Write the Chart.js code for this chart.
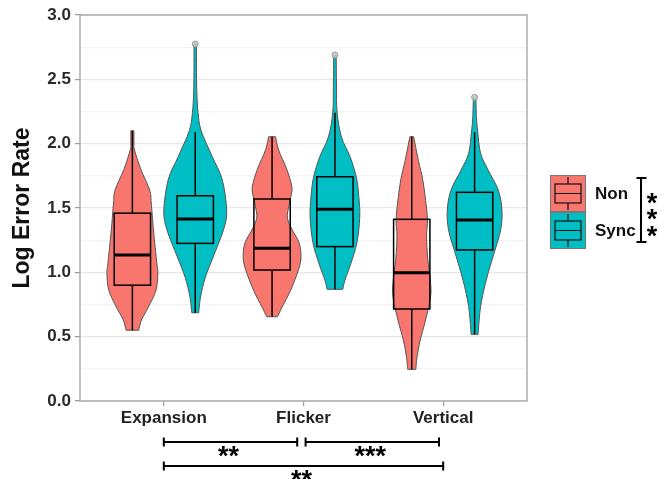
<!DOCTYPE html>
<html lang="en">
<head>
    <meta charset="UTF-8">
    <title>Log Error Rate violins</title>
    <script src="https://cdn.jsdelivr.net/npm/chart.js"></script>
    <style>
        body { margin: 0; background: #fff; }
        #wrap { width: 661px; height: 479px; }
    </style>
</head>
<body>
    <div id="wrap"><canvas id="chart"></canvas></div>

    <script>
        const categories = ['Expansion', 'Flicker', 'Vertical'];
        const groups = ['Non', 'Sync'];
        const groupColors = ['#F8766D', '#00BFC4'];

        // violin outlines: [log error rate, relative density]
        const expansionNon = [[2.10, 0.05], [2.00, 0.05], [1.95, 0.07], [1.80, 0.27], [1.64, 0.55], [1.54, 0.60], [1.33, 0.67], [1.07, 0.78], [0.99, 0.81], [0.86, 0.75], [0.73, 0.51], [0.63, 0.29], [0.55, 0.20]];
        const expansionSync = [[2.775, 0.04], [2.60, 0.04], [2.40, 0.05], [2.24, 0.09], [2.10, 0.19], [1.90, 0.54], [1.72, 0.86], [1.48, 1.00], [1.33, 0.90], [1.12, 0.57], [0.96, 0.32], [0.81, 0.17], [0.686, 0.11]];
        const flickerNon = [[2.054, 0.11], [1.95, 0.21], [1.80, 0.47], [1.665, 0.63], [1.59, 0.60], [1.50, 0.52], [1.42, 0.49], [1.33, 0.64], [1.23, 0.86], [1.12, 0.92], [1.02, 0.84], [0.86, 0.59], [0.73, 0.32], [0.655, 0.17]];
        const flickerSync = [[2.69, 0.04], [2.45, 0.05], [2.24, 0.07], [2.05, 0.21], [1.90, 0.48], [1.74, 0.68], [1.59, 0.76], [1.43, 0.79], [1.23, 0.70], [1.07, 0.51], [0.94, 0.32], [0.868, 0.25]];
        const verticalNon = [[2.054, 0.06], [1.87, 0.21], [1.72, 0.35], [1.56, 0.44], [1.41, 0.50], [1.28, 0.47], [1.10, 0.51], [0.94, 0.59], [0.81, 0.60], [0.63, 0.44], [0.474, 0.27], [0.344, 0.17], [0.246, 0.13]];
        const verticalSync = [[2.36, 0.04], [2.20, 0.06], [2.09, 0.10], [1.925, 0.19], [1.795, 0.43], [1.64, 0.75], [1.484, 0.87], [1.33, 0.83], [1.15, 0.62], [0.94, 0.37], [0.733, 0.19], [0.518, 0.11]];

        // box stats per category: [min, q1, median, q3, max]
        const nonBoxes = [[0.55, 0.90, 1.135, 1.46, 2.10], [0.655, 1.018, 1.187, 1.57, 2.054], [0.246, 0.715, 0.997, 1.412, 2.054]];
        const syncBoxes = [[0.686, 1.225, 1.415, 1.595, 2.09], [0.868, 1.20, 1.49, 1.743, 2.24], [0.518, 1.174, 1.407, 1.622, 2.09]];
        const syncOutliers = [2.775, 2.69, 2.36];

        // significance brackets between categories (x positions in category units)
        const pairSpans = [[1, 1.955], [2.015, 2.97], [1, 3]];
        const pairStars = ['**', '***', '**'];
        const groupStars = '***';

        const nonViolins = [expansionNon, flickerNon, verticalNon];
        const syncViolins = [expansionSync, flickerSync, verticalSync];

        const dodge = 0.225;      // half of the 0.9 dodge width
        const halfViolin = 0.225; // widest violin spans 0.45
        const halfBox = 0.13;
        const FONT = 'Liberation Sans, Arial, sans-serif';

        function isMajor(v) {
            return Math.abs(v * 2 - Math.round(v * 2)) < 1e-6;
        }

        // catmull-rom through pixel points
        function spline(ctx, pts) {
            for (let i = 0; i < pts.length - 1; i++) {
                const p0 = pts[i - 1] || pts[i];
                const p1 = pts[i];
                const p2 = pts[i + 1];
                const p3 = pts[i + 2] || p2;
                ctx.bezierCurveTo(
                    p1[0] + (p2[0] - p0[0]) / 6, p1[1] + (p2[1] - p0[1]) / 6,
                    p2[0] - (p3[0] - p1[0]) / 6, p2[1] - (p3[1] - p1[1]) / 6,
                    p2[0], p2[1]
                );
            }
        }

        function drawViolin(ctx, x, y, pts, center, color) {
            const right = pts.map(([v, d]) => [x.getPixelForValue(center + d * halfViolin), y.getPixelForValue(v)]);
            const left = pts.map(([v, d]) => [x.getPixelForValue(center - d * halfViolin), y.getPixelForValue(v)]).reverse();
            ctx.beginPath();
            ctx.moveTo(right[0][0], right[0][1]);
            spline(ctx, right);
            ctx.lineTo(left[0][0], left[0][1]);
            spline(ctx, left);
            ctx.closePath();
            ctx.fillStyle = color;
            ctx.fill();
            ctx.strokeStyle = '#555';
            ctx.lineWidth = 1;
            ctx.stroke();
        }

        function drawBox(ctx, x, y, stats, center) {
            const [mn, q1, med, q3, mx] = stats;
            const cx = x.getPixelForValue(center);
            const l = x.getPixelForValue(center - halfBox);
            const r = x.getPixelForValue(center + halfBox);
            ctx.strokeStyle = '#000';
            ctx.lineWidth = 1.5;
            ctx.beginPath();
            ctx.moveTo(cx, y.getPixelForValue(mx));
            ctx.lineTo(cx, y.getPixelForValue(q3));
            ctx.moveTo(cx, y.getPixelForValue(q1));
            ctx.lineTo(cx, y.getPixelForValue(mn));
            ctx.stroke();
            ctx.strokeRect(l, y.getPixelForValue(q3), r - l, y.getPixelForValue(q1) - y.getPixelForValue(q3));
            ctx.lineWidth = 3;
            ctx.beginPath();
            ctx.moveTo(l, y.getPixelForValue(med));
            ctx.lineTo(r, y.getPixelForValue(med));
            ctx.stroke();
        }

        function drawStars(ctx, text, cx, cy) {
            ctx.font = `bold 27px ${FONT}`;
            ctx.textAlign = 'center';
            ctx.textBaseline = 'alphabetic';
            const m = ctx.measureText(text);
            const base = cy + (m.actualBoundingBoxAscent - m.actualBoundingBoxDescent) / 2;
            ctx.fillStyle = '#000';
            ctx.fillText(text, cx, base);
        }

        function bracketH(ctx, x0, x1, yy) {
            ctx.beginPath();
            ctx.moveTo(x0, yy); ctx.lineTo(x1, yy);
            ctx.moveTo(x0, yy - 4.5); ctx.lineTo(x0, yy + 4.5);
            ctx.moveTo(x1, yy - 4.5); ctx.lineTo(x1, yy + 4.5);
            ctx.stroke();
        }

        const violinPlugin = {
            id: 'violins',
            beforeDatasetsDraw(chart) {
                const { ctx, chartArea, scales: { x, y } } = chart;
                ctx.save();
                ctx.beginPath();
                ctx.rect(chartArea.left, chartArea.top, chartArea.width, chartArea.height);
                ctx.clip();
                categories.forEach((c, i) => {
                    drawViolin(ctx, x, y, nonViolins[i], i + 1 - dodge, groupColors[0]);
                    drawViolin(ctx, x, y, syncViolins[i], i + 1 + dodge, groupColors[1]);
                    drawBox(ctx, x, y, nonBoxes[i], i + 1 - dodge);
                    drawBox(ctx, x, y, syncBoxes[i], i + 1 + dodge);
                });
                ctx.restore();
            },
            afterDraw(chart) {
                const { ctx, chartArea, scales: { x } } = chart;
                ctx.save();
                // panel border
                ctx.strokeStyle = '#a8a8a8';
                ctx.lineWidth = 1.4;
                ctx.strokeRect(chartArea.left, chartArea.top, chartArea.width, chartArea.height);

                // legend
                const kx = 550, ky = 175, kw = 36, kh = 37;
                groups.forEach((g, i) => {
                    const top = ky + i * kh;
                    ctx.fillStyle = groupColors[i];
                    ctx.fillRect(kx, top, kw, kh);
                    ctx.strokeStyle = '#777';
                    ctx.lineWidth = 1;
                    ctx.strokeRect(kx + 0.5, top + 0.5, kw - 1, kh - 1);
                    ctx.strokeStyle = '#111';
                    ctx.lineWidth = 1.2;
                    const cx = kx + kw / 2;
                    ctx.beginPath();
                    ctx.moveTo(cx, top + 2); ctx.lineTo(cx, top + 9);
                    ctx.moveTo(cx, top + 28); ctx.lineTo(cx, top + 35);
                    ctx.moveTo(kx + 5, top + 18.5); ctx.lineTo(kx + kw - 5, top + 18.5);
                    ctx.stroke();
                    ctx.strokeRect(kx + 5, top + 9, kw - 10, 19);
                    ctx.fillStyle = '#111';
                    ctx.font = `bold 17px ${FONT}`;
                    ctx.textAlign = 'left';
                    ctx.textBaseline = 'middle';
                    ctx.fillText(g, 595, top + 19);
                });

                // bracket between groups
                ctx.strokeStyle = '#000';
                ctx.lineWidth = 2;
                ctx.beginPath();
                ctx.moveTo(641, 178); ctx.lineTo(641, 242);
                ctx.moveTo(636.5, 178); ctx.lineTo(646.5, 178);
                ctx.moveTo(636.5, 242); ctx.lineTo(646.5, 242);
                ctx.stroke();
                groupStars.split('').forEach((s, i) => drawStars(ctx, s, 652, 198 + i * 16.5));

                // brackets between categories
                const rows = [442, 442, 466];
                pairSpans.forEach(([a, b], i) => {
                    const x0 = x.getPixelForValue(a), x1 = x.getPixelForValue(b);
                    ctx.strokeStyle = '#000';
                    ctx.lineWidth = 2;
                    bracketH(ctx, x0, x1, rows[i]);
                    drawStars(ctx, pairStars[i], (x0 + x1) / 2 - 2, rows[i] + 9.5);
                });
                ctx.restore();
            }
        };

        new Chart(document.getElementById('chart'), {
            type: 'scatter',
            data: {
                datasets: [{
                    label: 'outliers',
                    data: syncOutliers.map((v, i) => ({ x: i + 1 + dodge, y: v })),
                    pointRadius: 3,
                    pointHoverRadius: 3,
                    backgroundColor: 'rgba(200,200,200,0.9)',
                    borderColor: '#9a9a9a',
                    borderWidth: 1
                }]
            },
            options: {
                responsive: true,
                maintainAspectRatio: false,
                animation: false,
                layout: { padding: { top: 15, right: 134, left: 9, bottom: 0 } },
                plugins: {
                    legend: { display: false },
                    tooltip: { enabled: false }
                },
                scales: {
                    x: {
                        type: 'linear',
                        min: 0.4,
                        max: 3.6,
                        afterBuildTicks: s => { s.ticks = categories.map((c, i) => ({ value: i + 1 })); },
                        afterFit: s => { s.height = 78; },
                        border: { display: false },
                        grid: { drawOnChartArea: false, tickLength: 5, tickColor: '#999', lineWidth: 1.2 },
                        ticks: {
                            callback: v => categories[Math.round(v) - 1],
                            color: '#222',
                            padding: 2,
                            maxRotation: 0,
                            font: { family: FONT, weight: 'bold', size: 17 }
                        }
                    },
                    y: {
                        min: 0,
                        max: 3,
                        afterFit: s => { s.width = 71; },
                        border: { display: false },
                        grid: {
                            color: ctx => isMajor(ctx.tick.value) ? '#e8e8e8' : '#f3f3f3',
                            tickColor: ctx => isMajor(ctx.tick.value) ? '#999' : 'rgba(0,0,0,0)',
                            tickLength: 5,
                            lineWidth: 1.2
                        },
                        ticks: {
                            stepSize: 0.25,
                            autoSkip: false,
                            padding: 4,
                            color: '#2a2a2a',
                            callback: v => isMajor(v) ? v.toFixed(1) : '',
                            font: { family: FONT, weight: 'bold', size: 17 }
                        },
                        title: {
                            display: true,
                            text: 'Log Error Rate',
                            color: '#111',
                            padding: 0,
                            font: { family: FONT, weight: 'bold', size: 23 }
                        }
                    }
                }
            },
            plugins: [violinPlugin]
        });
    </script>
</body>
</html>
